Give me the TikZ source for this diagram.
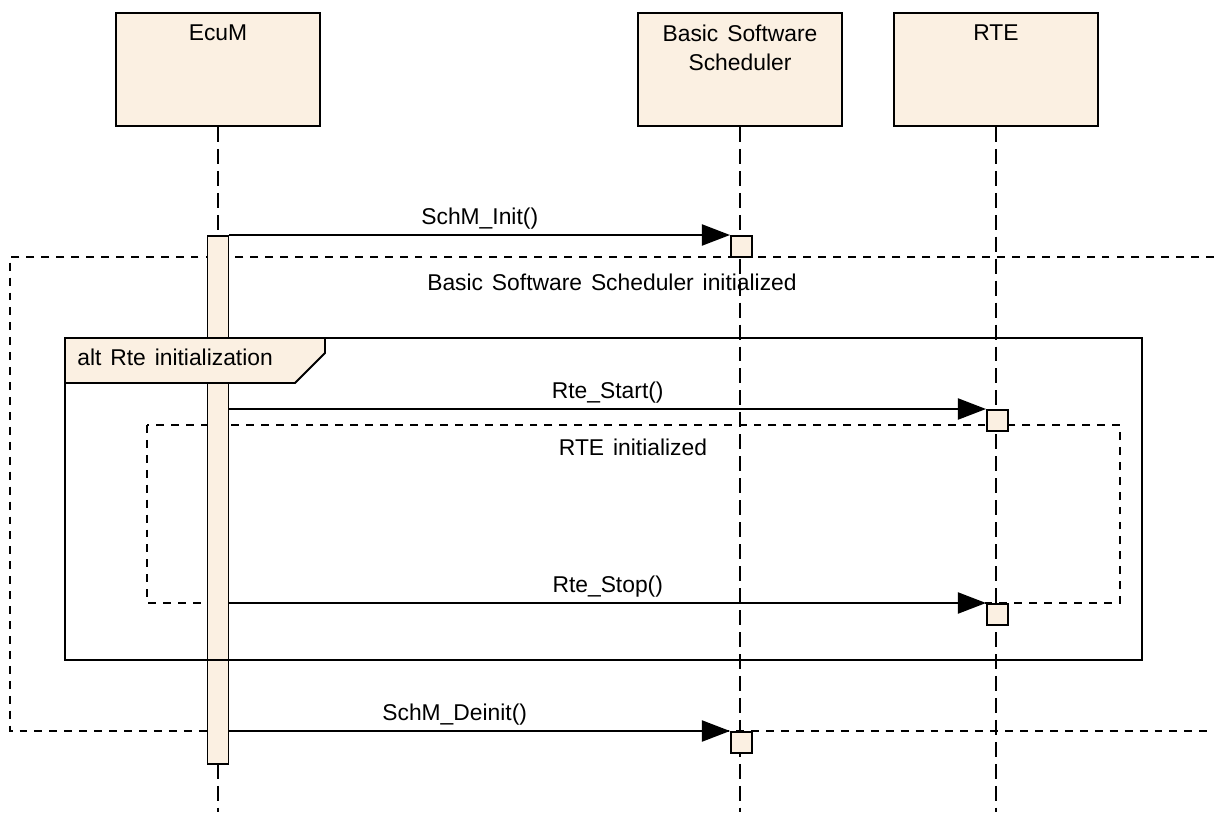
\documentclass[tikz,border=0pt]{standalone}
\usepackage{fontspec}
\setmainfont[WordSpace=1.4]{Liberation Sans}
\usetikzlibrary{arrows.meta}
\definecolor{umlfill}{RGB}{251,240,226}

\begin{document}
\begin{tikzpicture}[
    x=0.02cm, y=-0.02cm,
    every node/.style={font=\fontsize{13}{17}\selectfont},
    head/.style={draw, fill=umlfill, line width=1.1pt, minimum width=4.08cm, minimum height=2.26cm, inner sep=0pt},
    headtext/.style={anchor=north, align=center, inner sep=6.9pt},
    lifeline/.style={line width=1.1pt, dash pattern=on 8.5pt off 4pt},
    bar/.style={draw, fill=umlfill, line width=1.1pt, minimum width=0.42cm, inner sep=0pt, anchor=north},
    exec/.style={draw, fill=umlfill, line width=1.1pt, minimum size=0.42cm, inner sep=0pt, anchor=north west},
    msg/.style={line width=1.1pt, -{Triangle[length=16pt, width=12pt]}},
    msglabel/.style={above, inner sep=3pt},
    region/.style={line width=1.1pt, dash pattern=on 4.5pt off 4pt},
    frame/.style={line width=1.5pt}
]
\useasboundingbox (0,0) rectangle (1214,812);

% Lifeline heads
\node[head, anchor=north, label={[headtext]north:EcuM}] (ecum) at (218,12) {};
\node[head, anchor=north, label={[headtext]north:Basic Software\\Scheduler}] (bsw) at (740,12) {};
\node[head, anchor=north, label={[headtext]north:RTE}] (rte) at (996,12) {};

% Lifelines
\draw[lifeline] (ecum.south) -- (ecum.south |- 0,812);
\draw[lifeline] (bsw.south) -- (bsw.south |- 0,812);
\draw[lifeline] (rte.south) -- (rte.south |- 0,812);

% Scheduler initialized region (open to the right)
\draw[region] (1214,257) -- (10,257) -- (10,731) -- (1214,731);
\node[anchor=base] (bswinit) at (612,290) {Basic Software Scheduler initialized};

% RTE initialized region
\draw[region] (147,425) rectangle (1120,603);
\node[anchor=base] (rteinit) at (633,455) {RTE initialized};

% EcuM activation
\node[bar, minimum height=10.56cm] (ecumbar) at (218,235) {};

% alt fragment
\draw[frame] (65,338) rectangle (1142,660);
\draw[line width=1.1pt, fill=umlfill] (65,338) -- (325,338) -- (325,353) -- (295,383) -- (65,383) -- cycle;
\node[anchor=base west, inner sep=0pt] (altlabel) at (77,365) {alt Rte initialization};

% Execution boxes
\node[exec] (initexec) at (730,235) {};
\node[exec] (startexec) at (986,409) {};
\node[exec] (stopexec) at (986,603) {};
\node[exec] (deinitexec) at (730,731) {};

% Messages
\draw[msg] (ecumbar.east |- initexec.north) -- node[msglabel] {SchM\_Init()} (initexec.north west);
\draw[msg] (ecumbar.east |- startexec.north) -- node[msglabel] {Rte\_Start()} (startexec.north west);
\draw[msg] (ecumbar.east |- stopexec.north) -- node[msglabel] {Rte\_Stop()} (stopexec.north west);
\draw[msg] (ecumbar.east |- deinitexec.north) -- node[msglabel, pos=0.45] {SchM\_Deinit()} (deinitexec.north west);

\end{tikzpicture}
\end{document}
